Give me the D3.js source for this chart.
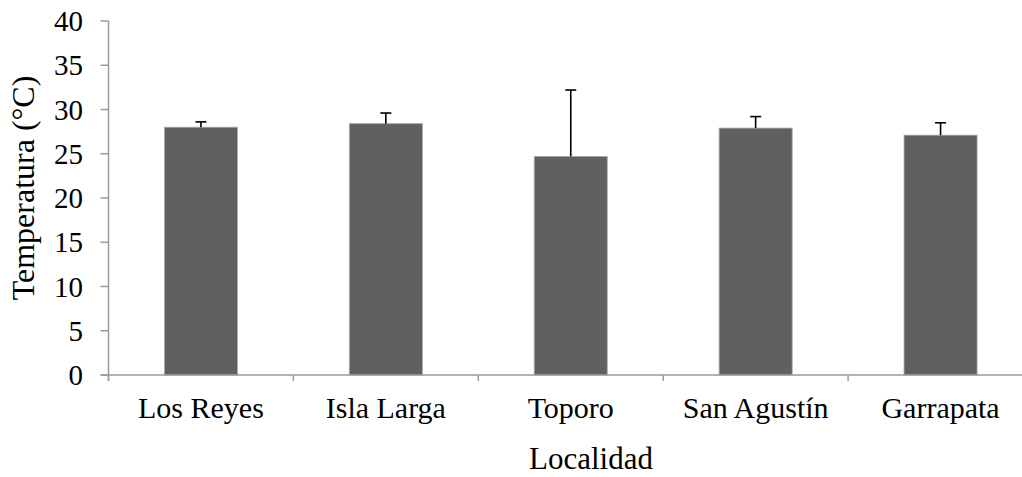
<!DOCTYPE html>
<html>
<head>
<meta charset="utf-8">
<script src="https://cdn.jsdelivr.net/npm/d3@7"></script>
<style>
  html, body { margin: 0; padding: 0; background: #fff; }
  svg text { font-family: "Liberation Serif", "Times New Roman", serif; fill: #000; }
</style>
</head>
<body>
<svg id="chart" width="1022" height="477"></svg>
<script>
const categories = ["Los Reyes", "Isla Larga", "Toporo", "San Agustín", "Garrapata"];
const means = [28.0, 28.4, 24.7, 27.9, 27.1];
const errors = [0.6, 1.2, 7.5, 1.3, 1.4];
const yTicks = [0, 5, 10, 15, 20, 25, 30, 35, 40];
const yTitle = "Temperatura (°C)";
const xTitle = "Localidad";

const svg = d3.select("#chart");
const mLeft = 108.5, mRight = 1033, mTop = 21, mBottom = 375;

const x = d3.scaleBand().domain(categories).range([mLeft, mRight])
  .paddingInner(0.605).paddingOuter(0.3025);
const y = d3.scaleLinear().domain([0, 40]).range([mBottom, mTop]);

const axisColor = "#9a9a9a";

// bars
svg.append("g").selectAll("rect").data(categories).join("rect")
  .attr("x", d => x(d))
  .attr("y", (d, i) => y(means[i]))
  .attr("width", x.bandwidth())
  .attr("height", (d, i) => y(0) - y(means[i]))
  .attr("fill", "#606060")
  .attr("stroke", "#a8a8a8")
  .attr("stroke-width", 0.8);

// error bars
const eg = svg.append("g").attr("stroke", "#000").attr("stroke-width", 1.6);
categories.forEach((c, i) => {
  const cx = x(c) + x.bandwidth() / 2;
  eg.append("line").attr("x1", cx).attr("x2", cx)
    .attr("y1", y(means[i])).attr("y2", y(means[i] + errors[i]));
  eg.append("line").attr("x1", cx - 5.5).attr("x2", cx + 5.5)
    .attr("y1", y(means[i] + errors[i])).attr("y2", y(means[i] + errors[i]));
});

// y axis
const ya = svg.append("g");
ya.append("line").attr("x1", mLeft).attr("x2", mLeft).attr("y1", mTop).attr("y2", mBottom + 6)
  .attr("stroke", axisColor).attr("stroke-width", 1.5);
yTicks.forEach(t => {
  ya.append("line").attr("x1", mLeft - 8).attr("x2", mLeft).attr("y1", y(t)).attr("y2", y(t))
    .attr("stroke", axisColor).attr("stroke-width", 1.5);
  ya.append("text").attr("x", 83).attr("y", y(t)).attr("dy", "0.35em")
    .attr("text-anchor", "end").attr("font-size", 29).text(t);
});

// x axis
const xa = svg.append("g");
xa.append("line").attr("x1", mLeft - 8).attr("x2", 1022).attr("y1", mBottom).attr("y2", mBottom)
  .attr("stroke", axisColor).attr("stroke-width", 1.5);
const step = x.step();
for (let i = 0; i <= categories.length; i++) {
  const tx = mLeft + i * step;
  xa.append("line").attr("x1", tx).attr("x2", tx).attr("y1", mBottom).attr("y2", mBottom + 6)
    .attr("stroke", axisColor).attr("stroke-width", 1.5);
}
categories.forEach(c => {
  xa.append("text").attr("x", x(c) + x.bandwidth() / 2).attr("y", 418)
    .attr("text-anchor", "middle").attr("font-size", 30).text(c);
});

// titles
svg.append("text").attr("x", 591).attr("y", 469)
  .attr("text-anchor", "middle").attr("font-size", 31).text(xTitle);
svg.append("text").attr("transform", "translate(34,188) rotate(-90)")
  .attr("text-anchor", "middle").attr("font-size", 32).text(yTitle);
</script>
</body>
</html>
